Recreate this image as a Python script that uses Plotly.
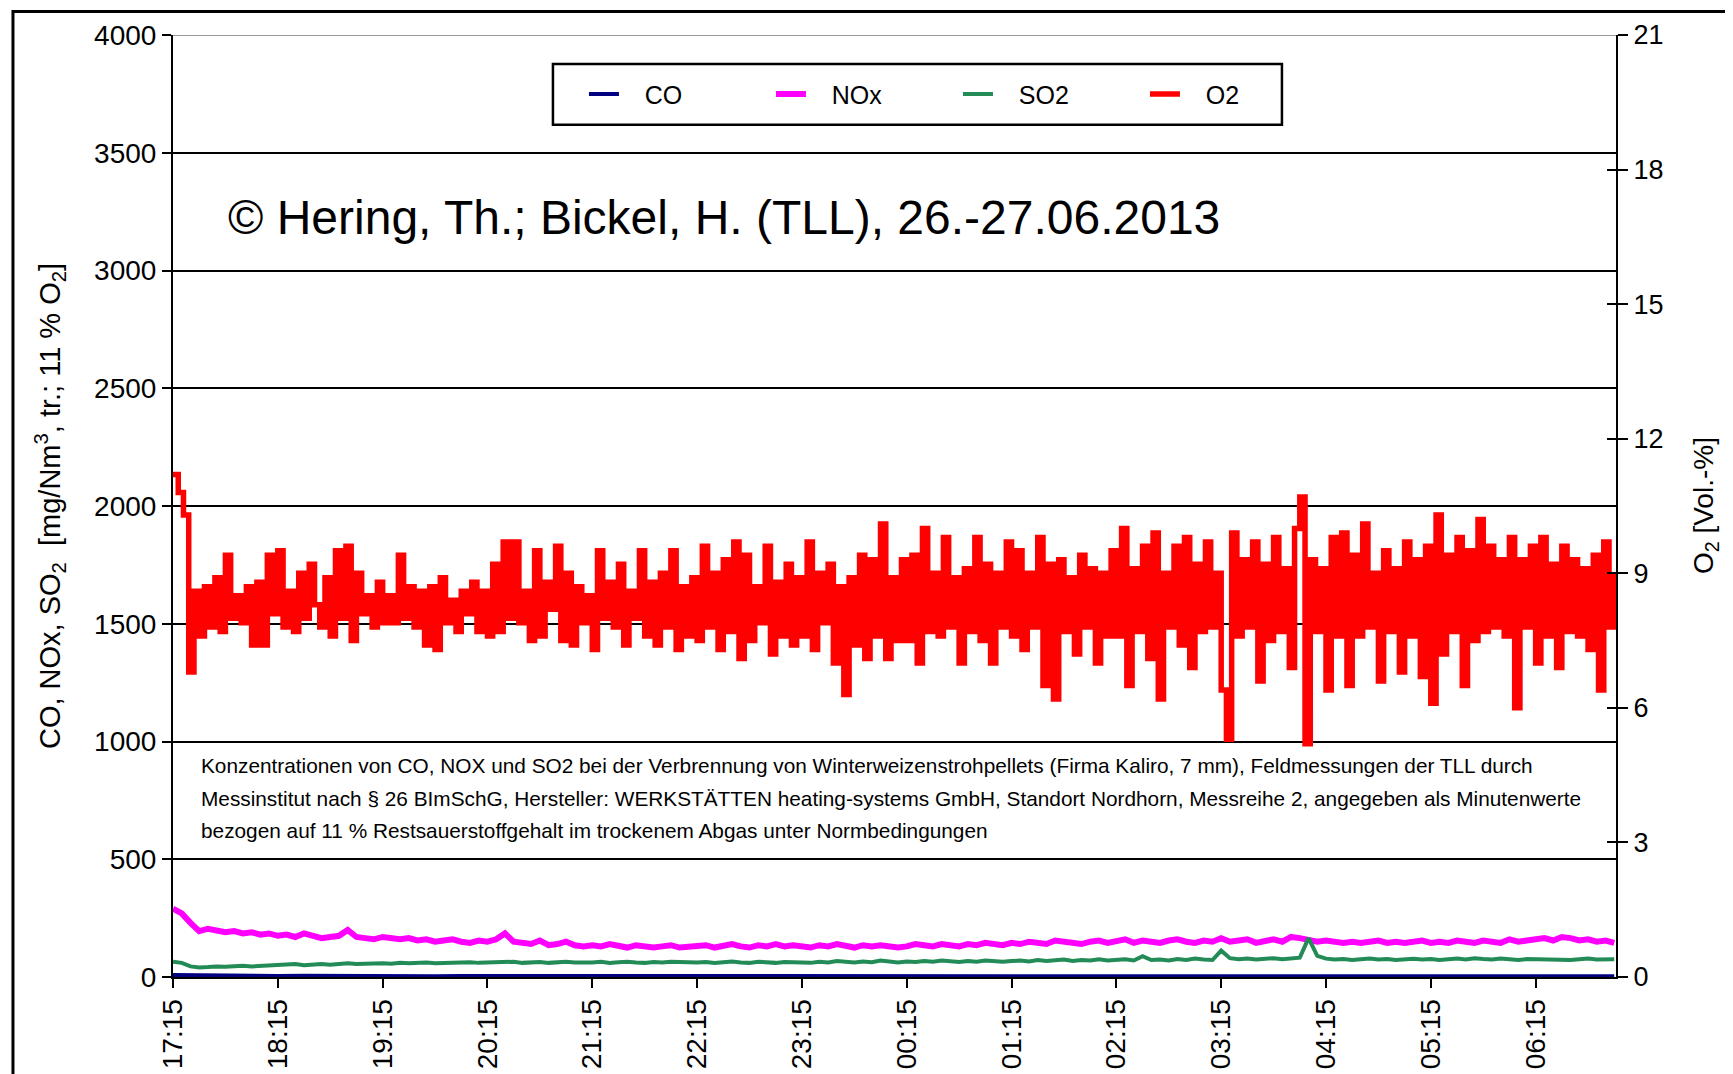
import plotly.graph_objects as go
import pandas as pd

# ---------------- data ----------------
START = "2013-06-26 17:15"

# O2 [Vol.-%], 3-minute steps from 17:15
o2_vol = [
    11.2, 10.8, 10.3, 6.8, 8.6, 7.6, 8.7, 7.8, 8.9, 7.7, 9.4, 8.0, 8.5, 7.9, 8.7, 7.4, 8.8, 7.4, 9.4, 8.1,
    9.5, 7.8, 8.6, 7.7, 9.0, 8.0, 9.2, 8.3, 7.8, 8.9, 7.6, 9.5, 8.0, 9.6, 7.5, 9.0, 8.1, 8.5, 7.8, 8.8,
    7.9, 8.5, 7.9, 9.4, 8.0, 8.7, 7.8, 8.6, 7.4, 8.7, 7.3, 8.9, 7.9, 8.4, 7.7, 8.6, 8.1, 8.8, 7.7, 8.6,
    7.6, 9.2, 7.7, 9.7, 8.0, 9.7, 7.9, 8.6, 7.5, 9.5, 7.6, 8.8, 8.2, 9.6, 7.5, 9.0, 7.4, 8.7, 7.9, 8.5,
    7.3, 9.5, 8.0, 8.8, 7.8, 9.2, 7.4, 8.6, 8.0, 9.5, 7.6, 8.8, 7.4, 9.0, 7.8, 9.5, 7.3, 8.7, 7.6, 8.9,
    7.5, 9.6, 7.8, 9.0, 7.3, 9.3, 7.7, 9.7, 7.1, 9.4, 7.5, 8.7, 7.9, 9.6, 7.2, 8.8, 7.6, 9.2, 7.4, 8.9,
    7.6, 9.7, 7.3, 9.0, 7.9, 9.2, 7.0, 8.7, 6.3, 8.9, 7.4, 9.4, 7.1, 9.3, 7.6, 10.1, 7.1, 8.9, 7.5, 9.3,
    7.5, 9.4, 7.0, 10.0, 7.7, 9.0, 7.6, 9.8, 7.8, 8.9, 7.0, 9.1, 7.7, 9.8, 7.5, 9.2, 7.0, 9.0, 7.8, 9.7,
    7.6, 9.5, 7.3, 9.0, 7.8, 9.8, 6.5, 9.2, 6.2, 9.3, 7.7, 8.9, 7.2, 9.4, 7.8, 9.1, 7.0, 9.0, 7.6, 9.5,
    7.6, 10.0, 6.5, 9.1, 7.7, 9.6, 7.1, 9.9, 6.2, 9.0, 7.8, 9.6, 7.4, 9.8, 6.9, 9.2, 7.7, 9.7, 7.8, 9.0,
    6.4, 5.3, 9.9, 7.6, 9.3, 7.8, 9.7, 6.6, 9.2, 7.5, 9.8, 7.7, 9.1, 6.9, 10.0, 10.7, 5.2, 9.3, 7.7, 9.1,
    6.4, 9.8, 7.6, 9.9, 6.5, 9.4, 7.6, 10.1, 7.8, 9.0, 6.6, 9.5, 7.7, 9.1, 6.8, 9.7, 7.6, 9.3, 6.7, 9.6,
    6.1, 10.3, 7.2, 9.4, 7.7, 9.8, 6.5, 9.5, 7.5, 10.2, 7.7, 9.6, 7.8, 9.3, 7.6, 9.8, 6.0, 9.3, 7.8, 9.6,
    7.0, 9.8, 7.6, 9.2, 6.9, 9.6, 7.7, 9.3, 7.6, 9.1, 7.3, 9.4, 6.4, 9.7, 7.8, 9.0,
]

# NOx [mg/Nm3], 5-minute steps from 17:15
nox = [
    290, 270, 230, 195, 205, 200, 190, 195, 185, 190, 180, 185,
    175, 180, 170, 185, 175, 165, 170, 175, 200, 170, 165, 160,
    170, 165, 160, 165, 155, 160, 150, 155, 160, 150, 145, 155,
    150, 160, 185, 150, 145, 140, 155, 135, 140, 150, 135, 130,
    135, 130, 140, 130, 125, 135, 130, 125, 130, 135, 125, 130,
    130, 135, 125, 130, 140, 130, 125, 135, 130, 140, 130, 135,
    130, 125, 135, 130, 140, 130, 125, 135, 130, 135, 130, 125,
    130, 140, 135, 130, 140, 135, 130, 140, 135, 145, 140, 135,
    145, 140, 150, 145, 140, 155, 150, 145, 140, 150, 155, 145,
    150, 160, 145, 155, 150, 145, 155, 160, 150, 145, 155, 150,
    165, 150, 155, 160, 145, 150, 160, 150, 170, 165, 155, 150,
    155, 150, 145, 150, 145, 150, 155, 145, 150, 145, 150, 155,
    145, 150, 145, 155, 150, 145, 155, 150, 145, 160, 150, 155,
    160, 165, 155, 170, 165, 155, 160, 150, 155, 145,
]

# SO2 [mg/Nm3], 5-minute steps from 17:15
so2 = [
    65, 60, 45, 40, 42, 45, 43, 45, 48, 45, 47, 50,
    50, 52, 55, 50, 53, 55, 52, 55, 58, 55, 57, 55,
    58, 56, 60, 58, 60, 62, 58, 60, 62, 60, 63, 60,
    62, 60, 63, 65, 60, 62, 64, 60, 63, 65, 62, 60,
    62, 65, 60, 63, 65, 62, 60, 64, 62, 65, 63, 60,
    62, 64, 60, 63, 66, 62, 60, 65, 63, 60, 64, 62,
    63, 60, 65, 62, 68, 64, 62, 66, 63, 70, 65, 62,
    66, 64, 68, 65, 70, 66, 64, 68, 65, 70, 67, 65,
    68, 70, 66, 72, 68, 70, 74, 68, 72, 70, 75, 70,
    72, 75, 70, 88, 72, 74, 70, 76, 72, 78, 74, 72,
    112, 80, 75, 78, 74, 76, 80, 75, 78, 82, 165, 90,
    78, 74, 76, 72, 75, 78, 74, 76, 72, 75, 77, 74,
    76, 72, 75, 78, 74, 80, 76, 74, 78, 75, 72, 76,
    75, 78, 74, 76, 72, 75, 78, 74, 76, 75,
]

# CO [mg/Nm3], 15-minute steps from 17:15
co = [
    8, 6, 5, 5, 4, 5, 4, 4, 5, 4, 3, 4, 4, 3,
    4, 3, 3, 4, 3, 4, 3, 3, 4, 3, 3, 4, 3, 3,
    4, 3, 4, 3, 3, 4, 3, 3, 4, 4, 3, 4, 5, 4,
    4, 5, 4, 4, 3, 4, 4, 3, 4, 4, 3, 4, 4, 3,
]

series_names = ["CO", "NOx", "SO2", "O2"]
left_ticks = [0, 500, 1000, 1500, 2000, 2500, 3000, 3500, 4000]
right_ticks = [0, 3, 6, 9, 12, 15, 18, 21]

note_lines = [
    "Konzentrationen von CO, NOX und SO2 bei der Verbrennung von Winterweizenstrohpellets "
    "(Firma Kaliro, 7 mm), Feldmessungen der TLL durch",
    "Messinstitut nach § 26 BImSchG, Hersteller: WERKSTÄTTEN heating-systems GmbH, "
    "Standort Nordhorn, Messreihe 2, angegeben als Minutenwerte",
    "bezogen auf 11 % Restsauerstoffgehalt im trockenem Abgas unter Normbedingungen",
]

# ---------------- figure ----------------
t_o2 = pd.date_range(START, periods=len(o2_vol), freq="3min")
t_nox = pd.date_range(START, periods=len(nox), freq="5min")
t_so2 = pd.date_range(START, periods=len(so2), freq="5min")
t_co = pd.date_range(START, periods=len(co), freq="15min")
x_end = pd.Timestamp(START) + pd.Timedelta(minutes=826)

FONT = "Liberation Sans, Arial, sans-serif"
PAD = "\u00a0\u00a0\u00a0"  # gap between legend line and label

fig = go.Figure()
fig.add_trace(go.Scatter(x=t_co, y=co, name=PAD + series_names[0], mode="lines",
                         line=dict(color="#000080", width=4)))
fig.add_trace(go.Scatter(x=t_nox, y=nox, name=PAD + series_names[1], mode="lines",
                         line=dict(color="#FF00FF", width=6)))
fig.add_trace(go.Scatter(x=t_so2, y=so2, name=PAD + series_names[2], mode="lines",
                         line=dict(color="#238B55", width=4)))
fig.add_trace(go.Scatter(x=t_o2, y=o2_vol, name=PAD + series_names[3], mode="lines", yaxis="y2",
                         line=dict(color="#FF0000", width=5.5, shape="hv")))
# empty helper trace so the inner tick marks of the right axis get drawn
fig.add_trace(go.Scatter(x=[], y=[], yaxis="y3", showlegend=False, hoverinfo="skip"))

annotations = [
    dict(text="© Hering, Th.; Bickel, H. (TLL), 26.-27.06.2013", xref="paper", yref="paper",
         x=0.0367, y=0.806, xanchor="left", yanchor="middle", showarrow=False,
         font=dict(family=FONT, size=48, color="black")),
    dict(text="CO, NOx, SO<sub>2</sub>  [mg/Nm<sup>3</sup>, tr.; 11 % O<sub>2</sub>]",
         xref="paper", yref="paper", x=-0.0852, y=0.5, xanchor="center", yanchor="middle",
         textangle=-90, showarrow=False, font=dict(family=FONT, size=29, color="black")),
    dict(text="O<sub>2</sub> [Vol.-%]",
         xref="paper", yref="paper", x=1.0617, y=0.5, xanchor="center", yanchor="middle",
         textangle=-90, showarrow=False, font=dict(family=FONT, size=28, color="black")),
]
for line_text, ypos in zip(note_lines, [0.2246, 0.1896, 0.1557]):
    annotations.append(dict(text=line_text, xref="paper", yref="paper", x=0.018, y=ypos,
                            xanchor="left", yanchor="middle", align="left", showarrow=False,
                            font=dict(family=FONT, size=20.8, color="black")))

fig.update_layout(
    width=1733, height=1074,
    margin=dict(l=165, r=125, t=25, b=105),
    paper_bgcolor="white", plot_bgcolor="white",
    font=dict(family=FONT, color="black"),
    showlegend=True,
    legend=dict(orientation="h", x=0.2848, y=0.937, xanchor="left", yanchor="middle",
                bgcolor="rgba(0,0,0,0)", borderwidth=0,
                font=dict(family=FONT, size=25, color="black"),
                entrywidth=142, entrywidthmode="pixels", traceorder="normal"),
    xaxis=dict(type="date", range=[pd.Timestamp(START), x_end],
               tick0=START, dtick=3600000, tickformat="%H:%M", tickangle=-90,
               ticks="outside", ticklen=9, tickwidth=2, tickcolor="black",
               showline=True, linecolor="black", linewidth=2,
               showgrid=False, zeroline=False,
               tickfont=dict(family=FONT, size=28, color="black")),
    yaxis=dict(range=[0, 4000], tickvals=left_ticks,
               ticks="outside", ticklen=9, tickwidth=2, tickcolor="black",
               showline=True, linecolor="black", linewidth=2,
               showgrid=True, gridcolor="black", gridwidth=2, zeroline=False,
               tickfont=dict(family=FONT, size=28, color="black")),
    yaxis2=dict(range=[0, 21], tickvals=right_ticks, overlaying="y", side="right",
                ticks="outside", ticklen=10, tickwidth=2, tickcolor="black",
                showline=True, linecolor="black", linewidth=2,
                showgrid=False, zeroline=False,
                tickfont=dict(family=FONT, size=27, color="black")),
    yaxis3=dict(range=[0, 21], tickvals=right_ticks, overlaying="y", side="right",
                ticks="inside", ticklen=9, tickwidth=2, tickcolor="black",
                showticklabels=False, showline=False, showgrid=False, zeroline=False),
    shapes=[
        # outer frame
        dict(type="rect", xref="paper", yref="paper", x0=-0.1109, x1=1.5, y0=-0.5, y1=1.025,
             line=dict(color="black", width=3), fillcolor="rgba(0,0,0,0)", layer="below"),
        # light top gridline at 4000
        dict(type="line", xref="paper", yref="y", x0=0, x1=1, y0=4000, y1=4000,
             line=dict(color="#999999", width=2), layer="below"),
        # legend box
        dict(type="rect", xref="paper", yref="paper", x0=0.2633, x1=0.7685, y0=0.9047, y1=0.9693,
             line=dict(color="black", width=2.5), fillcolor="white", layer="above"),
    ],
    annotations=annotations,
)

fig.write_html("out.html")
